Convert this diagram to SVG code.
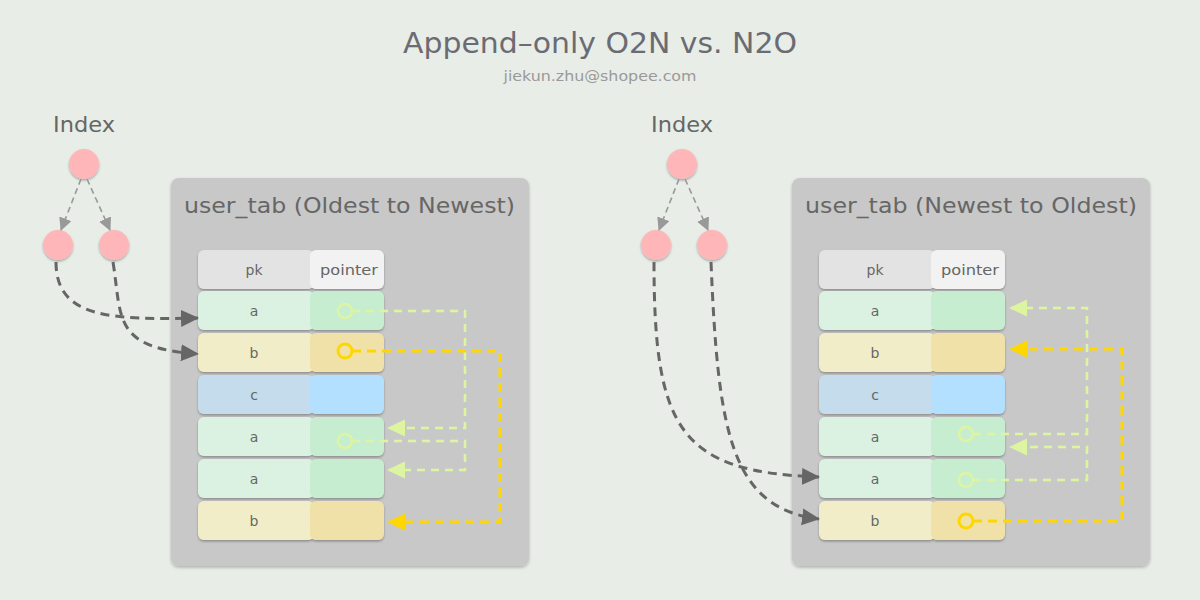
<svg xmlns="http://www.w3.org/2000/svg" width="1200" height="600" viewBox="0 0 1200 600">
<defs>
<style>
.txt{font-family:"DejaVu Sans","Noto Sans",Arial,sans-serif;fill:#666;}
.title{font-size:28px;fill:#6b6b73;text-anchor:middle;}
.sub{font-size:14px;fill:#9a9a9a;text-anchor:middle;}
.lbl{font-size:22px;}
.cell{font-size:14px;text-anchor:middle;}
.panel{fill:#c8c8c8;filter:url(#sh);}
.c{filter:url(#sh2);}
.hpk{fill:#e3e3e3;} .hpt{fill:#f2f2f2;}
.apk{fill:#dbf2e2;} .apt{fill:#c6edd0;}
.bpk{fill:#f0edc8;} .bpt{fill:#f0e1a8;}
.cpk{fill:#c4dcec;} .cpt{fill:#b3e0ff;}
.node{fill:#ffb6b8;filter:url(#sh2);}
.idx{fill:none;stroke:#999;stroke-width:1.6;stroke-dasharray:6,4;marker-end:url(#ag);}
.dk{fill:none;stroke:#666;stroke-width:3;stroke-dasharray:9,6;marker-end:url(#ad);}
.lt{fill:none;stroke:#ddf5a0;stroke-width:2.5;stroke-dasharray:8,6;marker-end:url(#al);}
.ltc{fill:none;stroke:#ddf5a0;stroke-width:2.5;}
.gd{fill:none;stroke:#ffd700;stroke-width:3;stroke-dasharray:9,6;marker-end:url(#agd);}
.gdc{fill:none;stroke:#ffd700;stroke-width:3;}
</style>
<filter id="sh" x="-10%" y="-10%" width="120%" height="120%"><feDropShadow dx="0" dy="1.5" stdDeviation="1.5" flood-color="#000" flood-opacity="0.25"/></filter>
<filter id="sh2" x="-20%" y="-20%" width="140%" height="150%"><feDropShadow dx="0" dy="1.5" stdDeviation="1" flood-color="#000" flood-opacity="0.3"/></filter>
<marker id="ag" markerUnits="userSpaceOnUse" markerWidth="13" markerHeight="13" viewBox="0 0 13 13" refX="12" refY="6.5" orient="auto"><path d="M0,0 L13,6.5 L0,13 Z" fill="#999"/></marker>
<marker id="ad" markerUnits="userSpaceOnUse" markerWidth="18" markerHeight="18" viewBox="0 0 18 18" refX="17" refY="9" orient="auto"><path d="M0,0.5 L18,9 L0,17.5 Z" fill="#666"/></marker>
<marker id="al" markerUnits="userSpaceOnUse" markerWidth="18" markerHeight="18" viewBox="0 0 18 18" refX="17" refY="9" orient="auto"><path d="M0,0.5 L18,9 L0,17.5 Z" fill="#ddf5a0"/></marker>
<marker id="agd" markerUnits="userSpaceOnUse" markerWidth="18" markerHeight="18" viewBox="0 0 18 18" refX="17" refY="9" orient="auto"><path d="M0,0.5 L18,9 L0,17.5 Z" fill="#ffd700"/></marker>
</defs>
<rect width="1200" height="600" fill="#e8ede7"/>
<text class="txt title" x="600" y="53" textLength="394" lengthAdjust="spacingAndGlyphs">Append–only O2N vs. N2O</text>
<text class="txt sub" x="600" y="81" textLength="193" lengthAdjust="spacingAndGlyphs">jiekun.zhu@shopee.com</text>

<!-- Left index -->
<g id="index-left">
<text class="txt lbl" x="84" y="132" text-anchor="middle" textLength="62" lengthAdjust="spacingAndGlyphs">Index</text>
<circle class="node" cx="84" cy="164" r="15"/>
<circle class="node" cx="58" cy="245" r="15"/>
<circle class="node" cx="114" cy="245" r="15"/>
</g>

<!-- Left table -->
<g id="table-left">
<rect class="panel" x="171" y="178" width="358" height="388" rx="8"/>
<text class="txt lbl" x="184" y="213" textLength="331" lengthAdjust="spacingAndGlyphs">user_tab (Oldest to Newest)</text>
<g id="l-hdr" class="c"><rect class="hpk" x="198" y="250" width="116" height="39" rx="6"/><rect class="hpt" x="310" y="250" width="74" height="39" rx="6"/></g>
<text class="txt cell" x="254" y="275">pk</text><text class="txt cell" x="349" y="275" textLength="58" lengthAdjust="spacingAndGlyphs">pointer</text>
<g id="l-r1" class="c"><rect class="apk" x="198" y="291" width="116" height="39" rx="6"/><rect class="apt" x="310" y="291" width="74" height="39" rx="6"/></g>
<text class="txt cell" x="254" y="316">a</text>
<g id="l-r2" class="c"><rect class="bpk" x="198" y="333" width="116" height="39" rx="6"/><rect class="bpt" x="310" y="333" width="74" height="39" rx="6"/></g>
<text class="txt cell" x="254" y="358">b</text>
<g id="l-r3" class="c"><rect class="cpk" x="198" y="375" width="116" height="39" rx="6"/><rect class="cpt" x="310" y="375" width="74" height="39" rx="6"/></g>
<text class="txt cell" x="254" y="400">c</text>
<g id="l-r4" class="c"><rect class="apk" x="198" y="417" width="116" height="39" rx="6"/><rect class="apt" x="310" y="417" width="74" height="39" rx="6"/></g>
<text class="txt cell" x="254" y="442">a</text>
<g id="l-r5" class="c"><rect class="apk" x="198" y="459" width="116" height="39" rx="6"/><rect class="apt" x="310" y="459" width="74" height="39" rx="6"/></g>
<text class="txt cell" x="254" y="484">a</text>
<g id="l-r6" class="c"><rect class="bpk" x="198" y="501" width="116" height="39" rx="6"/><rect class="bpt" x="310" y="501" width="74" height="39" rx="6"/></g>
<text class="txt cell" x="254" y="526">b</text>
</g>

<!-- Right index -->
<g id="index-right">
<text class="txt lbl" x="682" y="132" text-anchor="middle" textLength="62" lengthAdjust="spacingAndGlyphs">Index</text>
<circle class="node" cx="682" cy="164" r="15"/>
<circle class="node" cx="656" cy="245" r="15"/>
<circle class="node" cx="712" cy="245" r="15"/>
</g>

<!-- Right table -->
<g id="table-right">
<rect class="panel" x="792" y="178" width="358" height="388" rx="8"/>
<text class="txt lbl" x="805" y="213" textLength="332" lengthAdjust="spacingAndGlyphs">user_tab (Newest to Oldest)</text>
<g id="r-hdr" class="c"><rect class="hpk" x="819" y="250" width="116" height="39" rx="6"/><rect class="hpt" x="931" y="250" width="74" height="39" rx="6"/></g>
<text class="txt cell" x="875" y="275">pk</text><text class="txt cell" x="970" y="275" textLength="58" lengthAdjust="spacingAndGlyphs">pointer</text>
<g id="r-r1" class="c"><rect class="apk" x="819" y="291" width="116" height="39" rx="6"/><rect class="apt" x="931" y="291" width="74" height="39" rx="6"/></g>
<text class="txt cell" x="875" y="316">a</text>
<g id="r-r2" class="c"><rect class="bpk" x="819" y="333" width="116" height="39" rx="6"/><rect class="bpt" x="931" y="333" width="74" height="39" rx="6"/></g>
<text class="txt cell" x="875" y="358">b</text>
<g id="r-r3" class="c"><rect class="cpk" x="819" y="375" width="116" height="39" rx="6"/><rect class="cpt" x="931" y="375" width="74" height="39" rx="6"/></g>
<text class="txt cell" x="875" y="400">c</text>
<g id="r-r4" class="c"><rect class="apk" x="819" y="417" width="116" height="39" rx="6"/><rect class="apt" x="931" y="417" width="74" height="39" rx="6"/></g>
<text class="txt cell" x="875" y="442">a</text>
<g id="r-r5" class="c"><rect class="apk" x="819" y="459" width="116" height="39" rx="6"/><rect class="apt" x="931" y="459" width="74" height="39" rx="6"/></g>
<text class="txt cell" x="875" y="484">a</text>
<g id="r-r6" class="c"><rect class="bpk" x="819" y="501" width="116" height="39" rx="6"/><rect class="bpt" x="931" y="501" width="74" height="39" rx="6"/></g>
<text class="txt cell" x="875" y="526">b</text>
</g>

<!-- Connectors -->
<g id="connectors">
<path class="idx" d="M81,179 L61,230"/>
<path class="idx" d="M87,179 L110,230"/>
<path class="dk" d="M56,262 C56,318 110,320 198,318"/>
<path class="dk" d="M113,262 C122,318 112,348 198,354"/>

<path class="idx" d="M679,179 L659,230"/>
<path class="idx" d="M685,179 L708,230"/>
<path class="dk" d="M654,262 C654,430 680,472 819,477"/>
<path class="dk" d="M711,262 C718,430 730,508 819,519"/>

<circle class="ltc" cx="345" cy="311" r="7"/>
<path class="lt" d="M352,311 H465 V428 H388"/>
<circle class="ltc" cx="345" cy="441" r="7"/>
<path class="lt" d="M352,441 H465 V470 H388"/>
<circle class="gdc" cx="345" cy="351" r="7"/>
<path class="gd" d="M352,351 H500 V522 H388"/>

<circle class="ltc" cx="966" cy="434" r="7"/>
<path class="lt" d="M973,434 H1087 V308 H1010"/>
<circle class="ltc" cx="966" cy="480" r="7"/>
<path class="lt" d="M973,480 H1087 V447 H1010"/>
<circle class="gdc" cx="966" cy="521" r="7"/>
<path class="gd" d="M973,521 H1122 V349 H1010"/>
</g>
</svg>
